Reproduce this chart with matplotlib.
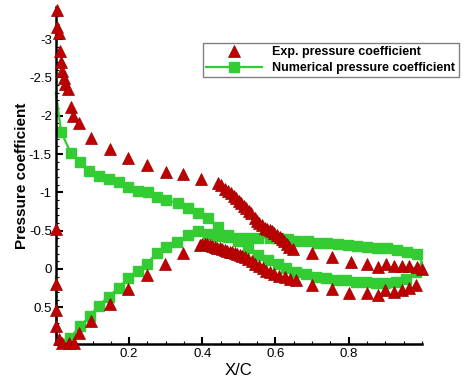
#!/usr/bin/env python3
"""
Pressure coefficient along the chord: experiment vs numerical solution.

Usage: python plot.py
"""

import matplotlib
matplotlib.use('Agg')
import matplotlib.pyplot as plt
from matplotlib.ticker import MultipleLocator, FuncFormatter

# Experimental data, suction side
exp_upper_x = [0.003, 0.003, 0.008, 0.010, 0.014, 0.017, 0.023, 0.026, 0.032, 0.040,
               0.046, 0.064, 0.096, 0.148, 0.196, 0.248, 0.300, 0.346, 0.396,
               0.443, 0.452, 0.461, 0.470, 0.479, 0.486, 0.493, 0.500, 0.507, 0.514,
               0.520, 0.527, 0.534, 0.543, 0.550, 0.556, 0.563, 0.570, 0.577, 0.584,
               0.590, 0.597, 0.604, 0.611, 0.618, 0.624, 0.631, 0.638, 0.647,
               0.700, 0.754, 0.806, 0.851, 0.881, 0.903, 0.924, 0.945, 0.965, 0.987, 1.000]
exp_upper_cp = [-3.38, -3.16, -3.08, -2.84, -2.70, -2.58, -2.49, -2.42, -2.35, -2.12,
                -2.00, -1.90, -1.71, -1.56, -1.445, -1.36, -1.27, -1.24, -1.18,
                -1.12, -1.09, -1.05, -1.02, -0.99, -0.95, -0.92, -0.89, -0.86, -0.82,
                -0.79, -0.76, -0.73, -0.66, -0.63, -0.60, -0.57, -0.54, -0.525, -0.51,
                -0.49, -0.47, -0.445, -0.42, -0.39, -0.36, -0.325, -0.29, -0.26,
                -0.205, -0.15, -0.087, -0.065, -0.03, -0.06, -0.04, -0.04, -0.04, -0.03, 0.0]

# Experimental data, pressure side
exp_lower_x = [0.0, 0.0, 0.0, 0.0, 0.008, 0.017, 0.035, 0.050, 0.062, 0.096, 0.148,
               0.198, 0.248, 0.298, 0.346,
               0.393, 0.400, 0.407, 0.414, 0.420, 0.427, 0.434, 0.441, 0.448, 0.455,
               0.461, 0.468, 0.475, 0.482, 0.488, 0.495, 0.502, 0.509, 0.516, 0.525,
               0.535, 0.545, 0.555, 0.565, 0.575, 0.585, 0.595, 0.610, 0.625, 0.640, 0.655,
               0.700, 0.754, 0.800, 0.851, 0.881, 0.900, 0.924, 0.945, 0.965, 0.983]
exp_lower_cp = [-0.52, 0.20, 0.535, 0.74, 0.92, 0.96, 0.97, 0.96, 0.84, 0.68, 0.46,
                0.265, 0.08, -0.06, -0.21,
                -0.31, -0.325, -0.33, -0.32, -0.31, -0.30, -0.29, -0.28, -0.27, -0.26,
                -0.25, -0.24, -0.225, -0.215, -0.205, -0.19, -0.18, -0.17, -0.16, -0.13,
                -0.10, -0.07, -0.04, -0.01, 0.02, 0.04, 0.07, 0.09, 0.11, 0.13, 0.14,
                0.21, 0.265, 0.32, 0.32, 0.34, 0.28, 0.30, 0.27, 0.25, 0.21]

# Numerical solution, suction side
num_upper_x = [0.0, 0.014, 0.040, 0.065, 0.091, 0.118, 0.144, 0.171, 0.198, 0.224,
               0.251, 0.275, 0.300, 0.334, 0.361, 0.389, 0.416, 0.443, 0.470, 0.497,
               0.525, 0.552, 0.579, 0.606, 0.630, 0.656, 0.684, 0.710, 0.738, 0.765,
               0.792, 0.820, 0.847, 0.874, 0.900, 0.928, 0.956, 0.983, 1.000]
num_upper_cp = [-2.30, -1.79, -1.52, -1.39, -1.28, -1.21, -1.17, -1.14, -1.07, -1.02,
                -1.01, -0.94, -0.90, -0.86, -0.79, -0.735, -0.66, -0.55, -0.44, -0.36,
                -0.27, -0.18, -0.12, -0.07, -0.01, 0.035, 0.065, 0.10, 0.12, 0.14,
                0.15, 0.165, 0.17, 0.18, 0.18, 0.165, 0.135, 0.035, -0.09]

# Numerical solution, pressure side
num_lower_x = [0.0, 0.002, 0.038, 0.065, 0.092, 0.117, 0.144, 0.171, 0.198, 0.223,
               0.248, 0.275, 0.300, 0.330, 0.361, 0.389, 0.416, 0.443, 0.470, 0.497,
               0.525, 0.552, 0.584, 0.606, 0.633, 0.660, 0.688, 0.715, 0.742, 0.770,
               0.797, 0.824, 0.851, 0.878, 0.906, 0.933, 0.960, 0.987, 1.000]
num_lower_cp = [0.10, 0.95, 0.905, 0.75, 0.62, 0.48, 0.36, 0.25, 0.12, 0.02,
                -0.06, -0.21, -0.29, -0.35, -0.44, -0.49, -0.45, -0.43, -0.42, -0.41,
                -0.41, -0.41, -0.41, -0.40, -0.39, -0.37, -0.36, -0.345, -0.335, -0.32,
                -0.31, -0.30, -0.29, -0.28, -0.27, -0.25, -0.225, -0.19, -0.09]

EXP_RED = '#c00000'
NUM_GREEN = '#33cc33'


def main():
    plt.rcParams['font.family'] = ['Liberation Sans', 'DejaVu Sans']
    plt.rcParams['axes.unicode_minus'] = False

    fig = plt.figure(figsize=(4.74, 3.84), dpi=100)
    ax = fig.add_axes([0.118, 0.104, 0.772, 0.878])

    # numerical curves: line through every point, squares skip the edge points
    ax.plot(num_upper_x, num_upper_cp, color=NUM_GREEN, lw=1.6, marker='s', ms=7,
            markevery=list(range(1, len(num_upper_x) - 1)), clip_on=False,
            label='Numerical pressure coefficient')
    ax.plot(num_lower_x, num_lower_cp, color=NUM_GREEN, lw=1.6, marker='s', ms=7,
            markevery=list(range(2, len(num_lower_x) - 1)), clip_on=False)

    # experiment: triangles only
    ax.plot(exp_upper_x, exp_upper_cp, ls='none', marker='^', ms=8, color=EXP_RED,
            mec='#990000', mew=0.5, clip_on=False, zorder=3,
            label='Exp. pressure coefficient')
    ax.plot(exp_lower_x, exp_lower_cp, ls='none', marker='^', ms=8, color=EXP_RED,
            mec='#990000', mew=0.5, clip_on=False, zorder=3)

    ax.set_xlim(0, 1)
    ax.set_ylim(0.98, -3.42)  # Cp axis reversed

    ax.set_xticks([0.2, 0.4, 0.6, 0.8])
    ax.xaxis.set_minor_locator(MultipleLocator(0.05))
    ax.yaxis.set_major_locator(MultipleLocator(0.5))
    ax.yaxis.set_minor_locator(MultipleLocator(0.1))
    ax.yaxis.set_major_formatter(FuncFormatter(lambda v, p: f'{v:g}'))
    ax.xaxis.set_major_formatter(FuncFormatter(lambda v, p: f'{v:g}'))

    ax.tick_params(which='major', direction='in', length=5, width=1.5, labelsize=9.5, pad=3)
    ax.tick_params(which='minor', direction='in', length=2.5, width=0.8)

    for side in ['top', 'right']:
        ax.spines[side].set_visible(False)
    for side in ['left', 'bottom']:
        ax.spines[side].set_linewidth(1.8)

    ax.set_xlabel('X/C', fontsize=12, labelpad=2)
    ax.set_ylabel('Pressure coefficient', fontsize=11, fontweight='bold', labelpad=0)

    handles, labels = ax.get_legend_handles_labels()
    leg = ax.legend(handles[::-1], labels[::-1], loc='upper left',
                    bbox_to_anchor=(203 / 474, 1 - 43 / 384), bbox_transform=fig.transFigure,
                    prop={'size': 9, 'weight': 'bold'}, frameon=True, fancybox=False,
                    framealpha=1, edgecolor='#808080', borderpad=0.25, labelspacing=0.3,
                    handlelength=4.5, handletextpad=0.8, borderaxespad=0)
    leg.get_frame().set_linewidth(1.0)

    fig.savefig('out.png', dpi=100)
    plt.close(fig)


if __name__ == '__main__':
    main()
